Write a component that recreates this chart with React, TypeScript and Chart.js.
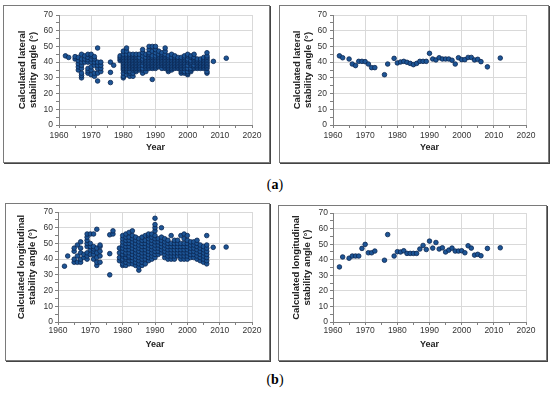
import React, { useEffect, useRef } from "react";
import { Chart, registerables } from "chart.js";
Chart.register(...registerables);

// ---------- DATA ----------
const years = [
  1962, 1963, 1965, 1966, 1967, 1968, 1969, 1970, 1971, 1972, 1973, 1976, 1977, 1979,
  1980, 1981, 1982, 1983, 1984, 1985, 1986, 1987, 1988, 1989, 1990, 1991, 1992, 1993,
  1994, 1995, 1996, 1997, 1998, 1999, 2000, 2001, 2002, 2003, 2004, 2005, 2006, 2008, 2012,
];

const lateralMean = [
  44, 42.8, 42, 38.8, 37.8, 40.5, 40.5, 40.3, 38.8, 36.5, 36.5, 32, 38.8, 42.4,
  39.5, 40.1, 40.5, 39.9, 39.2, 38.4, 39.2, 40.5, 40.5, 40.5, 45.6, 42, 41.4, 42.8,
  42, 42, 42, 41.2, 38.8, 42.8, 41.6, 41.6, 43, 43, 41.4, 41.8, 40.3, 37, 42.6,
];

const longitudinalMean = [
  35.4, 41.8, 41, 42.4, 42.4, 42.4, 47.3, 49.9, 44.5, 44.5, 45.6, 39.7, 56.2, 42.4,
  45.2, 45, 45.8, 44.1, 44.1, 44.1, 44.1, 46.9, 49.2, 46.6, 52, 47.5, 51.1, 46.9,
  47.7, 45, 46.2, 47.5, 45.6, 45.6, 45.8, 44.5, 49, 47.5, 43, 43.5, 42.6, 47.3, 47.7,
];

const lateralAll: number[][] = [
  [44], [43], [42, 43.5], [35, 37, 39, 41, 43], [30, 31.5, 33, 36, 38, 40, 42, 45],
  [40, 42, 44], [33, 34.5, 36, 40, 41.5, 43, 45], [32, 35, 37, 40, 42, 44, 45],
  [31, 33, 38, 40, 42, 43.5], [28, 33, 36, 38, 40, 49], [34, 36, 38, 40], [27, 33.5, 40],
  [38], [41, 42, 43, 44],
  [30, 31, 33, 35, 36, 37, 38, 39, 40, 41, 42, 43, 44, 45, 47],
  [32, 34, 35, 36, 37, 38, 39, 40, 41, 42, 43, 44, 45, 47, 49],
  [31, 33, 34, 36, 37, 38, 39, 40, 41, 42, 43, 44, 45],
  [31, 33, 35, 36, 37, 38, 39, 40, 41, 42, 43, 44, 45],
  [34, 35, 36, 37, 38, 39, 40, 41, 42, 43, 44, 45],
  [35, 36, 37, 38, 39, 40, 41, 42, 43, 45],
  [33, 35, 36, 38, 40, 41, 42, 44, 46, 48],
  [34, 36, 37, 38, 39, 40, 41, 42, 43, 45],
  [36, 37, 38, 39, 40, 41, 42, 43, 44, 45, 46, 48, 50],
  [29, 36, 37, 38, 39, 40, 41, 42, 43, 44, 47, 50],
  [36, 37, 38, 39, 40, 41, 42, 43, 44, 46, 48, 50],
  [37, 38, 39, 40, 41, 42, 43, 44, 45, 47],
  [36, 38, 39, 40, 41, 42, 43, 44, 45, 46],
  [36, 37, 38, 39, 40, 41, 42, 43, 44, 45, 47, 49],
  [34, 35, 36, 37, 38, 39, 40, 41, 42, 43, 44],
  [35, 36, 37, 38, 39, 40, 41, 42, 43, 45],
  [36, 37, 38, 39, 40, 41, 42, 43, 44],
  [36, 37, 38, 39, 40, 41, 42, 43],
  [33, 34, 35, 36, 37, 38, 39, 40, 41, 42, 43],
  [33, 34, 36, 37, 38, 39, 40, 41, 42, 43, 44],
  [32, 33, 34, 36, 38, 40, 41, 42, 44, 45],
  [34, 35, 36, 38, 39, 40, 41, 43, 44],
  [36, 37, 38, 40, 41, 42, 43, 45],
  [36, 37, 38, 39, 40, 41, 42],
  [36, 37, 38, 39, 40, 41, 42],
  [36, 37, 38, 39, 40, 41, 42, 43],
  [33, 34, 36, 37, 38, 39, 40, 41, 42, 43, 44, 46],
  [40.5], [42.5],
];

const longitudinalAll: number[][] = [
  [35.5], [42], [38, 40, 45, 47], [38, 42, 49], [38, 40, 44, 47, 51], [41, 43],
  [40, 42, 44, 48, 50, 52, 54, 56], [43, 46, 48, 50, 56], [40, 43, 45, 46.5, 48, 56],
  [36, 38, 41, 44, 47, 59], [38, 42, 45, 48, 49], [30, 43.5, 55.5], [56, 58], [39, 41, 44, 47],
  [36, 37, 39, 40, 42, 43, 45, 47, 49, 51, 53, 55],
  [36, 38, 40, 41, 43, 44, 46, 48, 50, 52, 54, 56],
  [37, 39, 41, 42, 44, 46, 48, 50, 52, 54, 57],
  [37, 39, 41, 43, 45, 47, 49, 51, 53, 55, 58],
  [36, 38, 40, 42, 44, 46, 48, 50, 52, 54],
  [33, 35, 37, 39, 41, 43, 45, 47, 49, 51, 53],
  [36, 38, 40, 42, 44, 46, 48, 50, 52, 54],
  [37, 40, 42, 44, 46, 48, 50, 52, 55],
  [39, 41, 43, 45, 47, 49, 51, 53, 55, 56],
  [40, 42, 44, 46, 48, 50, 52, 54, 56],
  [41, 43, 45, 47, 49, 51, 53, 55, 58, 60, 62, 66],
  [43, 45, 47, 49, 51, 53],
  [44, 46, 48, 50, 52, 54, 60],
  [41, 43, 45, 47, 49, 51, 53],
  [40, 42, 44, 46, 48, 50, 52],
  [40, 42, 44, 46, 48, 50, 55],
  [40, 42, 44, 46, 48, 50, 52],
  [42, 44, 46, 48, 50, 52],
  [40, 42, 44, 46, 48, 50, 55],
  [40, 42, 44, 46, 48, 50, 53, 56],
  [40, 42, 44, 46, 48, 50, 52, 55],
  [41, 43, 45, 47, 49, 51],
  [41, 43, 45, 47, 49, 51],
  [40, 42, 44, 46, 48, 50, 52],
  [39, 41, 43, 45, 47, 49],
  [38, 40, 42, 44, 46, 48],
  [37, 39, 41, 43, 45, 47, 49, 55],
  [47.5], [47.7],
];

const xMin = 1960, xMax = 2020, yMin = 0, yMax = 70;
const xTitle = "Year";
const lateralTitle = ["Calculated lateral", "stability angle (°)"];
const longitudinalTitle = ["Calculated longitudinal", "stability angle (°)"];

// ---------- HELPERS ----------
const FONT = "'Liberation Sans', Arial, sans-serif";
const TITLE_SIZE = 9.5;
const TITLE_LH = 1.15;

function pointsFromAll(all: number[][]) {
  const pts: { x: number; y: number }[] = [];
  years.forEach((yr, i) => all[i].forEach((v) => pts.push({ x: yr, y: v })));
  return pts;
}
function pointsFromMean(mean: number[]) {
  return years.map((yr, i) => ({ x: yr, y: mean[i] }));
}

type Cfg = {
  box: [number, number, number, number];
  plot: [number, number, number, number];
  title: string[];
  titleX: number;
  xTitleY: number;
  xTickPad: number;
  yTickPad: number;
  data: { x: number; y: number }[];
};

function Panel({ cfg }: { cfg: Cfg }) {
  const ref = useRef<HTMLCanvasElement>(null);
  const cl = cfg.box[0] + 1, ct = cfg.box[1] + 1;
  const cw = cfg.box[2] - cfg.box[0] - 2, ch = cfg.box[3] - cfg.box[1] - 2;
  useEffect(() => {
    if (!ref.current) return;
    const lh = TITLE_SIZE * TITLE_LH;
    const yW = cfg.plot[0] - cl;
    const padTop = cfg.plot[1] - ct;
    const padRight = cl + cw - cfg.plot[2];
    const xH = ct + ch - cfg.plot[3];
    const gridColor = (c: any) =>
      c.tick && Math.round(c.tick.value) % 10 === 0 ? "#d9d9d9" : "rgba(0,0,0,0)";
    const chart = new Chart(ref.current, {
      type: "scatter",
      data: {
        datasets: [
          {
            data: cfg.data,
            backgroundColor: "#1d5596",
            borderColor: "#0a2650",
            borderWidth: 0.8,
            pointRadius: 2.3,
          },
        ],
      },
      options: {
        animation: false,
        responsive: false,
        devicePixelRatio: 1,
        layout: { padding: { top: padTop, right: padRight, bottom: 0, left: 0 } },
        plugins: { legend: { display: false }, tooltip: { enabled: false } },
        scales: {
          x: {
            type: "linear",
            min: xMin,
            max: xMax,
            afterFit: (s: any) => { s.height = xH; },
            ticks: {
              stepSize: 5,
              autoSkip: false,
              maxRotation: 0,
              padding: cfg.xTickPad,
              color: "#333",
              font: { family: FONT, size: 8.5 },
              callback: (v: any) => (Number(v) % 10 === 0 ? String(v) : ""),
            },
            grid: { color: gridColor, tickColor: "#808080", tickLength: 3 },
            border: { color: "#808080", width: 1 },
            title: {
              display: true,
              text: xTitle,
              color: "#222",
              font: { family: FONT, size: 9, weight: "bold", lineHeight: TITLE_LH },
              padding: { top: 0, bottom: ct + ch - cfg.xTitleY - (9 * TITLE_LH) / 2 },
            },
          },
          y: {
            type: "linear",
            min: yMin,
            max: yMax,
            afterFit: (s: any) => { s.width = yW; },
            ticks: {
              stepSize: 5,
              autoSkip: false,
              padding: cfg.yTickPad,
              color: "#333",
              font: { family: FONT, size: 8.5 },
              callback: (v: any) => (Number(v) % 10 === 0 ? String(v) : ""),
            },
            grid: { color: gridColor, tickColor: "#808080", tickLength: 3 },
            border: { color: "#808080", width: 1 },
            title: {
              display: true,
              text: cfg.title,
              color: "#222",
              font: { family: FONT, size: TITLE_SIZE, weight: "bold", lineHeight: TITLE_LH },
              padding: { top: cfg.titleX - cl - lh / 2, bottom: 0 },
            },
          },
        },
      },
    });
    return () => chart.destroy();
  }, []);
  return (
    <>
      <div
        style={{
          position: "absolute",
          left: cfg.box[0],
          top: cfg.box[1],
          width: cfg.box[2] - cfg.box[0],
          height: cfg.box[3] - cfg.box[1],
          boxSizing: "border-box",
          border: "1px solid #7a7a7a",
          boxShadow: "1px 1px 0 #444",
        }}
      />
      <canvas
        ref={ref}
        width={cw}
        height={ch}
        style={{ position: "absolute", left: cl, top: ct, width: cw, height: ch }}
      />
    </>
  );
}

const panels: Cfg[] = [
  {
    box: [3, 5, 270, 163], plot: [59, 15, 252, 125], title: lateralTitle, titleX: 22,
    xTitleY: 148, xTickPad: 3, yTickPad: 3, data: pointsFromAll(lateralAll),
  },
  {
    box: [279, 5, 549, 163], plot: [333, 15, 526, 125], title: lateralTitle, titleX: 297,
    xTitleY: 148, xTickPad: 3, yTickPad: 3, data: pointsFromMean(lateralMean),
  },
  {
    box: [5, 203, 270, 361], plot: [58, 212, 252, 322], title: longitudinalTitle, titleX: 21,
    xTitleY: 345, xTickPad: 0.5, yTickPad: 2, data: pointsFromAll(longitudinalAll),
  },
  {
    box: [278, 205, 547, 361], plot: [333, 212, 526, 322], title: longitudinalTitle, titleX: 296,
    xTitleY: 345, xTickPad: 0.5, yTickPad: 2, data: pointsFromMean(longitudinalMean),
  },
];

const labelStyle: React.CSSProperties = {
  position: "absolute",
  width: 40,
  textAlign: "center",
  fontFamily: "'Liberation Serif', 'Times New Roman', serif",
  fontSize: 14,
  lineHeight: "16px",
  color: "#000",
};

export default function App() {
  return (
    <div
      style={{
        position: "fixed",
        left: 0,
        top: 0,
        width: 550,
        height: 394,
        background: "#fff",
        overflow: "hidden",
      }}
    >
      {panels.map((p, i) => (
        <Panel key={i} cfg={p} />
      ))}
      <div style={{ ...labelStyle, left: 255, top: 177 }}>
        (<b>a</b>)
      </div>
      <div style={{ ...labelStyle, left: 255, top: 372 }}>
        (<b>b</b>)
      </div>
    </div>
  );
}
